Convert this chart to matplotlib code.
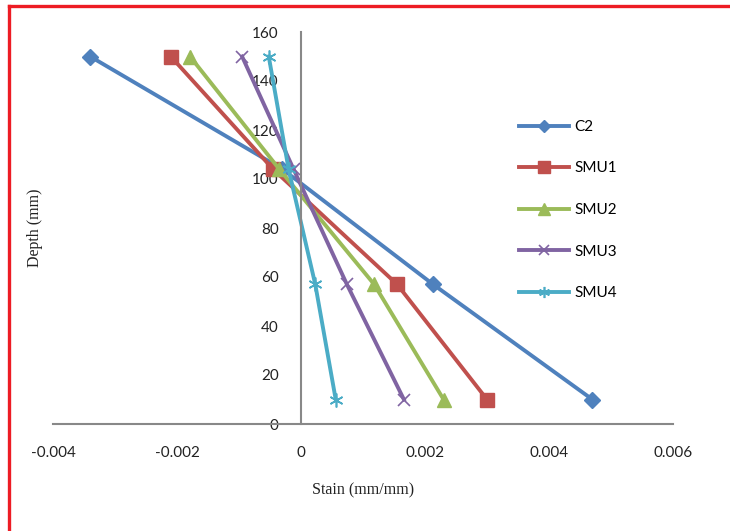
import matplotlib.pyplot as plt
from matplotlib.lines import Line2D

# 数据：应变 vs 深度
depth = [150, 104, 57, 10]
c2 = [-0.0034, -0.0003, 0.00213, 0.0047]
smu1 = [-0.0021, -0.00045, 0.00155, 0.0030]
smu2 = [-0.00179, -0.00035, 0.00118, 0.0023]
smu3 = [-0.00095, -0.00012, 0.00074, 0.00166]
smu4 = [-0.00052, -0.0002, 0.00023, 0.00056]

series_names = ['C2', 'SMU1', 'SMU2', 'SMU3', 'SMU4']
x_ticks = [-0.004, -0.002, 0, 0.002, 0.004, 0.006]
x_tick_labels = ['-0.004', '-0.002', '0', '0.002', '0.004', '0.006']
y_ticks = [0, 20, 40, 60, 80, 100, 120, 140, 160]

colors = ['#4F81BD', '#C0504D', '#9BBB59', '#8064A2', '#4BACC6']
markers = ['D', 's', '^', 'x', (6, 2, 0)]
sizes = [8, 10, 10, 9, 10]

fig = plt.figure(figsize=(7.3, 5.31), dpi=100)
ax = fig.add_axes([53 / 730, 1 - 424 / 531, 620 / 730, 392 / 531])

for name, xs, c, m, ms in zip(series_names, [c2, smu1, smu2, smu3, smu4], colors, markers, sizes):
    thin = m == 'x' or isinstance(m, tuple)
    ax.plot(xs, depth, color=c, lw=2.8, marker=m, ms=ms,
            mew=1.2 if thin else 1, mec=c, mfc=c, label=name)

ax.set_xlim(-0.004, 0.006)
ax.set_ylim(0, 160)
ax.set_xticks(x_ticks)
ax.set_xticklabels(x_tick_labels)
ax.set_yticks(y_ticks)

ax.spines['left'].set_position(('data', 0))
ax.spines['top'].set_visible(False)
ax.spines['right'].set_visible(False)
for s in ('left', 'bottom'):
    ax.spines[s].set_color('#888888')
    ax.spines[s].set_linewidth(1.5)

ax.tick_params(axis='both', length=0, labelsize=11, labelcolor='#222222')
ax.tick_params(axis='y', pad=16)
ax.tick_params(axis='x', pad=16)
for lbl in ax.get_xticklabels() + ax.get_yticklabels():
    lbl.set_family('Lato')

fig.text(363 / 730, 1 - 490 / 531, 'Stain (mm/mm)', ha='center', va='center',
         family='Liberation Serif', fontsize=11.5, color='#222222')
fig.text(35 / 730, 1 - 228 / 531, 'Depth (mm)', ha='center', va='center', rotation=90,
         family='Liberation Serif', fontsize=11.5, color='#222222')

ax.legend(loc='center left', bbox_to_anchor=(519 / 730, 1 - 210 / 531),
          bbox_transform=fig.transFigure, frameon=False, borderpad=0,
          borderaxespad=0, handlelength=3.3, handletextpad=0.3, labelspacing=1.8,
          markerscale=0.8, prop={'family': 'Lato', 'size': 11})

# 红色边框
fig.add_artist(Line2D([9 / 730, 1], [1 - 6 / 531, 1 - 6 / 531], color='#ED1C24', lw=2.4,
                      transform=fig.transFigure))
fig.add_artist(Line2D([9 / 730, 9 / 730], [0, 1 - 6 / 531], color='#ED1C24', lw=2.4,
                      transform=fig.transFigure))

fig.savefig('out.png', dpi=100)
